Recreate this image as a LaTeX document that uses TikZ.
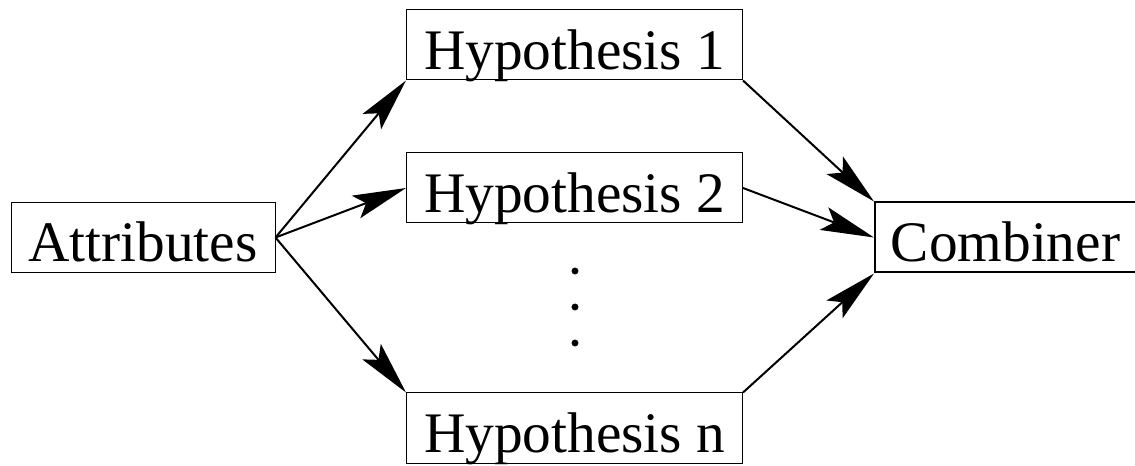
\documentclass[tikz,border=0pt]{standalone}
\usepackage{fontspec}
\setmainfont{Liberation Serif}
\usetikzlibrary{arrows.meta}
\begin{document}
\begin{tikzpicture}[x=0.75pt,y=-0.75pt,
  box/.style={draw, line width=0.75pt, inner sep=0pt, minimum height=52.5pt,
    text height=44pt, text depth=7.3pt, font=\fontsize{43}{43}\selectfont},
  conn/.style={line width=1.5pt, -{Stealth[length=40pt,width=18pt,inset=8pt]}},
  dotmark/.style={fill=black}]
\useasboundingbox (0,0) rectangle (1135,466);
\node[box, minimum width=198pt] (attr) at (143,237.5) {Attributes};
\node[box, minimum width=252pt] (h1) at (574.5,45) {Hypothesis 1};
\node[box, minimum width=252pt] (h2) at (574.5,188) {Hypothesis 2};
\node[box, minimum width=252pt] (hn) at (574.5,428) {Hypothesis n};
\node[box, line width=1.5pt, minimum width=195.75pt] (comb) at (1005.5,237.5) {Combiner};
\draw[conn] (attr.east) -- (h1.south west);
\draw[conn] (attr.east) -- (h2.west);
\draw[conn] (attr.east) -- (hn.north west);
\draw[conn] (h1.south east) -- (comb.north west);
\draw[conn] (h2.east) -- (comb.west);
\draw[conn] (hn.north east) -- (comb.south west);
\fill[dotmark] (575,271) circle (2.6pt);
\fill[dotmark] (575,307) circle (2.6pt);
\fill[dotmark] (575,343) circle (2.6pt);
\end{tikzpicture}
\end{document}
